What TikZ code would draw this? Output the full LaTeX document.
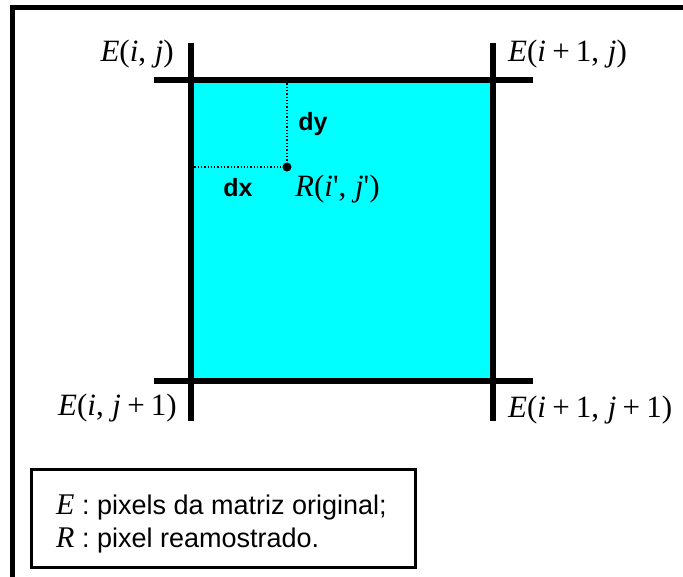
\documentclass[tikz,border=0pt]{standalone}
\usepackage{fontspec}
\setmainfont{Liberation Sans}
\newfontfamily\tms{Liberation Serif}
\newcommand{\mi}[1]{\textit{#1}}
\newcommand{\cm}{,\hspace{0.28em}}
\newcommand{\pl}{\hspace{0.2em}+\hspace{0.2em}}
\definecolor{cellcyan}{RGB}{0,255,255}
\begin{document}
\begin{tikzpicture}[x=1pt,y=-1pt,
  gridline/.style={line width=6pt,black},
  frameline/.style={line width=5pt,black},
  dotline/.style={line width=1.3pt,dotted},
  mathlbl/.style={font=\tms\fontsize{31}{36}\selectfont,inner sep=0pt},
  sanslbl/.style={font=\bfseries\fontsize{25}{28}\selectfont,inner sep=0pt},
  legendtxt/.style={font=\fontsize{27}{32}\selectfont,inner sep=0pt,anchor=west}]
\useasboundingbox (0,0) rectangle (683,576);
\clip (0,0) rectangle (683,576);
% outer frame (only top and left visible)
\coordinate (fTL) at (12.5,7.5);
\coordinate (fTR) at (700,7.5);
\coordinate (fBL) at (12.5,600);
\draw[frameline] (fTR) -- (fTL) -- (fBL);
% cyan cell
\coordinate (A) at (191,80);
\coordinate (D) at (493,381);
\fill[cellcyan] (A) rectangle (D);
% grid lines
\coordinate (hTl) at (154,80);  \coordinate (hTr) at (533,80);
\coordinate (hBl) at (154,381); \coordinate (hBr) at (533,381);
\coordinate (vLt) at (191,43);  \coordinate (vLb) at (191,421);
\coordinate (vRt) at (493,43);  \coordinate (vRb) at (493,421);
\draw[gridline] (hTl) -- (hTr);
\draw[gridline] (hBl) -- (hBr);
\draw[gridline] (vLt) -- (vLb);
\draw[gridline] (vRt) -- (vRb);
% resampled point
\coordinate (Rp) at (287,167);
\coordinate (Rtop) at (287,80);
\coordinate (Rleft) at (191,167);
\draw[dotline] (Rtop) -- (Rp);
\draw[dotline] (Rleft) -- (Rp);
\fill (Rp) circle (4.5);
\node[sanslbl] (dy) at (313,124) {dy};
\node[sanslbl] (dx) at (238,188) {dx};
\node[mathlbl,anchor=west] (R) at (295,189) {\mi{R}(\mi{i}'\cm\mi{j}')};
% corner labels
\node[mathlbl,anchor=east] (E00) at (174,54) {\mi{E}(\mi{i}\cm\mi{j})};
\node[mathlbl,anchor=west] (E10) at (508,54) {\mi{E}(\mi{i}\pl1\cm\mi{j})};
\node[mathlbl,anchor=east] (E01) at (177,408) {\mi{E}(\mi{i}\cm\mi{j}\pl1)};
\node[mathlbl,anchor=west] (E11) at (508,410) {\mi{E}(\mi{i}\pl1\cm\mi{j}\pl1)};
% legend
\node[draw,line width=3pt,minimum width=384pt,minimum height=98pt,anchor=north west,inner sep=0pt] (leg) at (30,468) {};
\node[legendtxt] (l1) at (56,507) {{\tms\fontsize{30}{32}\selectfont\mi{E}} : pixels da matriz original;};
\node[legendtxt] (l2) at (56,540) {{\tms\fontsize{30}{32}\selectfont\mi{R}} : pixel reamostrado.};
\end{tikzpicture}
\end{document}
